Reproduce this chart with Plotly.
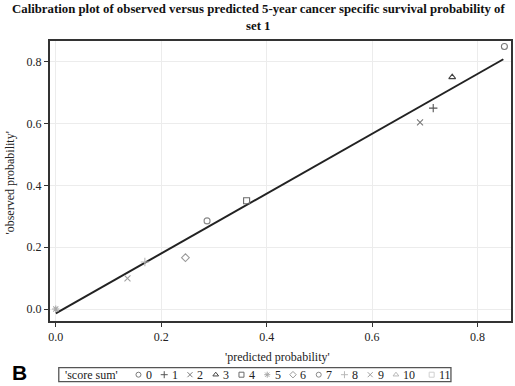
import plotly.graph_objects as go

# ---- data ----
score_labels = ["0", "1", "2", "3", "4", "5", "6", "7", "8", "9", "10", "11"]
score_symbols = ["circle-open", "cross-thin-open", "x-thin-open", "triangle-up-open",
                 "square-open", "asterisk-open", "diamond-open", "circle-open",
                 "cross-thin-open", "x-thin-open", "triangle-up-open", "square-open"]
score_colors = ["#7a7a7a", "#555555", "#7a7a7a", "#444444", "#6a6a6a", "#a8a8a8",
                "#9a9a9a", "#8a8a8a", "#b8b8b8", "#a0a0a0", "#b8b8b8", "#d0d0d0"]

# points shown in the plot (score, predicted, observed)
pt_score = ["0", "1", "2", "3", "4", "5", "6", "7", "8", "9"]
pt_pred = [0.851, 0.716, 0.691, 0.752, 0.362, 0.000, 0.246, 0.287, 0.169, 0.136]
pt_obs = [0.849, 0.650, 0.604, 0.750, 0.350, 0.000, 0.166, 0.285, 0.152, 0.099]

# fitted line endpoints
line_x = [0.0, 0.849]
line_y = [-0.014, 0.808]

x_ticks = [0.0, 0.2, 0.4, 0.6, 0.8]
y_ticks = [0.0, 0.2, 0.4, 0.6, 0.8]

W, H = 515, 386
SERIF = "Liberation Serif"


def px(x):
    return x / W


def py(y):
    return 1 - y / H


fig = go.Figure()

# regression line
fig.add_trace(go.Scatter(x=line_x, y=line_y, mode="lines",
                         line=dict(color="#222222", width=2), showlegend=False,
                         hoverinfo="skip"))

# points
for s, xv, yv in zip(pt_score, pt_pred, pt_obs):
    i = score_labels.index(s)
    fig.add_trace(go.Scatter(x=[xv], y=[yv], mode="markers", name=s,
                             marker=dict(symbol=score_symbols[i], size=6,
                                         color=score_colors[i],
                                         line=dict(color=score_colors[i], width=1.1)),
                             showlegend=False))

# ---- manual legend (pixel overlay axes) ----
sym_x = []
for i in range(len(score_labels)):
    x = 137 + 25.85 * i + (10 if i >= 11 else 0)
    sym_x.append(x)
leg_y = 374.7
for i, lab in enumerate(score_labels):
    fig.add_trace(go.Scatter(x=[sym_x[i]], y=[leg_y], mode="markers",
                             xaxis="x2", yaxis="y2", showlegend=False,
                             hoverinfo="skip",
                             marker=dict(symbol=score_symbols[i], size=5,
                                         color=score_colors[i],
                                         line=dict(color=score_colors[i], width=1))))

annotations = []
for i, lab in enumerate(score_labels):
    annotations.append(dict(x=px(sym_x[i] + 5.5), y=py(leg_y), xref="paper", yref="paper",
                            text=lab, showarrow=False, xanchor="left", yanchor="middle",
                            font=dict(family=SERIF, size=12, color="#222222")))
annotations.append(dict(x=px(61), y=py(leg_y), xref="paper", yref="paper",
                        text="'score sum'", showarrow=False, xanchor="left",
                        yanchor="middle", font=dict(family=SERIF, size=12, color="#222222")))
# title
annotations.append(dict(x=0.5, y=py(9.5), xref="paper", yref="paper",
                        text="<b>Calibration plot of observed versus predicted 5-year cancer specific survival probability of</b>",
                        showarrow=False, xanchor="center", yanchor="middle",
                        font=dict(family=SERIF, size=12.8, color="#111111")))
annotations.append(dict(x=0.5, y=py(26), xref="paper", yref="paper",
                        text="<b>set 1</b>", showarrow=False, xanchor="center",
                        yanchor="middle", font=dict(family=SERIF, size=12.8, color="#111111")))
# axis titles
annotations.append(dict(x=px(277), y=py(356.5), xref="paper", yref="paper",
                        text="'predicted probability'", showarrow=False,
                        xanchor="center", yanchor="middle",
                        font=dict(family=SERIF, size=12, color="#222222")))
annotations.append(dict(x=px(8.5), y=py(183), xref="paper", yref="paper",
                        text="'observed probability'", showarrow=False, textangle=-90,
                        xanchor="center", yanchor="middle",
                        font=dict(family=SERIF, size=12, color="#222222")))
# panel letter
annotations.append(dict(x=px(18), y=py(372), xref="paper", yref="paper",
                        text="<b>B</b>", showarrow=False, xanchor="center",
                        yanchor="middle",
                        font=dict(family="Liberation Sans", size=21,
                                  color="#000000")))

shapes = [dict(type="rect", xref="paper", yref="paper",
               x0=px(57), x1=px(450.7), y0=py(381.7), y1=py(367.7),
               line=dict(color="#555555", width=1.3), fillcolor="rgba(0,0,0,0)")]

fig.update_layout(
    width=W, height=H,
    margin=dict(l=0, r=0, t=0, b=0),
    paper_bgcolor="white", plot_bgcolor="rgba(0,0,0,0)",
    font=dict(family=SERIF),
    showlegend=False,
    annotations=annotations,
    shapes=shapes,
    xaxis=dict(domain=[px(48), px(510.7)], range=[-0.0113, 0.863],
               tickvals=x_ticks, ticktext=[f"{v:.1f}" for v in x_ticks],
               showgrid=True, gridcolor="#ececec", gridwidth=1, zeroline=False,
               showline=True, mirror=True, linecolor="#333333", linewidth=1.6,
               ticks="outside", ticklen=4, tickcolor="#333333",
               tickfont=dict(family=SERIF, size=12, color="#222222")),
    yaxis=dict(domain=[py(321), py(40.7)], range=[-0.0388, 0.868],
               tickvals=y_ticks, ticktext=[f"{v:.1f}" for v in y_ticks],
               showgrid=True, gridcolor="#ececec", gridwidth=1, zeroline=False,
               showline=True, mirror=True, linecolor="#333333", linewidth=1.6,
               ticks="outside", ticklen=4, tickcolor="#333333",
               tickfont=dict(family=SERIF, size=12, color="#222222")),
    xaxis2=dict(domain=[0, 1], range=[0, W], visible=False, fixedrange=True,
                anchor="y2"),
    yaxis2=dict(domain=[0, 1], range=[H, 0], visible=False, fixedrange=True,
                anchor="x2"),
)

fig.write_html("out.html", post_script="document.body.style.margin='0';",
               config={"displayModeBar": False})
